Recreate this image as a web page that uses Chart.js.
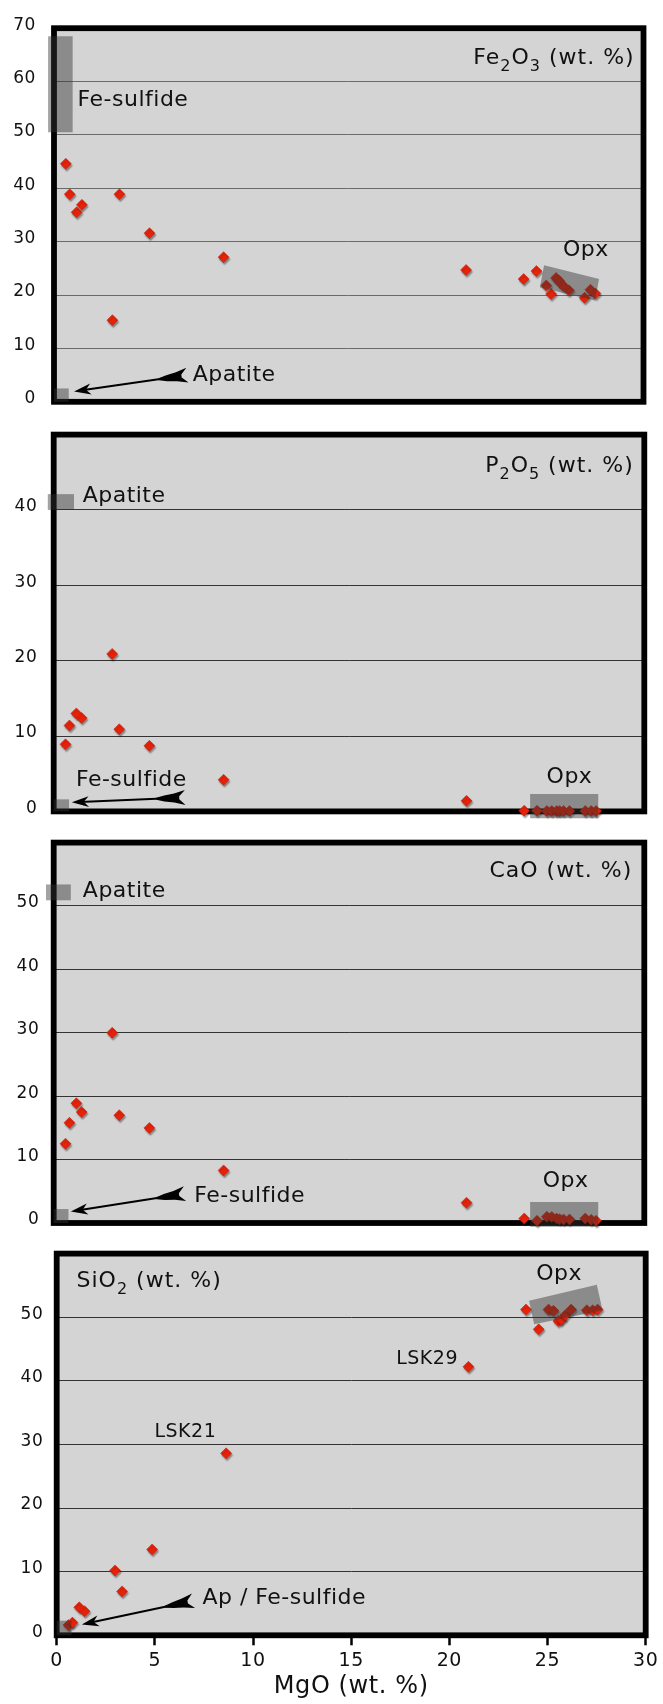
<!DOCTYPE html>
<html>
<head>
<meta charset="utf-8">
<script src="https://cdn.jsdelivr.net/npm/chart.js@4.4.0/dist/chart.umd.min.js"></script>
<style>
  html, body { margin: 0; padding: 0; background: #fff; width: 663px; height: 1704px; overflow: hidden; }
  canvas { position: absolute; left: 0; }
</style>
</head>
<body>
<canvas id="fe2o3Chart" width="663" height="430" style="top:0px"></canvas>
<canvas id="p2o5Chart" width="663" height="430" style="top:408px"></canvas>
<canvas id="caoChart" width="663" height="430" style="top:818px"></canvas>
<canvas id="sio2Chart" width="663" height="474" style="top:1230px"></canvas>
<script>
// ---- Bulk compositions (wt. %) of the analysed samples ----
const mgo   = [0.6, 0.8, 1.15, 1.42, 2.97, 3.33, 4.86, 8.63, 20.97,
               23.9, 24.55, 25.05, 25.3, 25.55, 25.7, 25.9, 26.2, 27.0, 27.3, 27.55];
const fe2o3 = [44.6, 38.9, 35.5, 36.9, 15.3, 38.9, 31.6, 27.1, 24.7,
               23.0, 24.5, 21.8, 20.2, 23.2, 22.7, 21.8, 20.9, 19.5, 21.0, 20.3];
const p2o5  = [8.9, 11.4, 13.0, 12.4, 20.9, 10.9, 8.7, 4.2, 1.4,
               0.1, 0.1, 0.05, 0.05, 0.05, 0.05, 0.05, 0.05, 0.05, 0.05, 0.05];
const cao   = [12.5, 15.8, 18.9, 17.5, 30.0, 17.0, 15.0, 8.3, 3.2,
               0.7, 0.35, 1.0, 0.95, 0.7, 0.6, 0.55, 0.55, 0.7, 0.5, 0.35];
const sio2  = [1.6, 2.0, 4.4, 3.8, 10.2, 6.9, 13.5, 28.6, 42.2,
               51.2, 48.1, 51.2, 51.0, 49.4, 49.6, 50.3, 51.2, 51.1, 51.1, 51.2];

// ---- Axis ticks ----
const mgoTicks   = [0, 5, 10, 15, 20, 25, 30];
const fe2o3Ticks = [0, 10, 20, 30, 40, 50, 60, 70];
const p2o5Ticks  = [0, 10, 20, 30, 40];
const caoTicks   = [0, 10, 20, 30, 40, 50];
const sio2Ticks  = [0, 10, 20, 30, 40, 50];

// ---- Mineral end-member fields (MgO, oxide) ----
const fe2o3Fields = [
  [[-0.3, 50.5], [0.95, 50.5], [0.95, 68.5], [-0.3, 68.5]],      // Fe-sulfide
  [[0, 0], [0.75, 0], [0.75, 2.5], [0, 2.5]],                     // apatite
  [[24.94, 25.6], [27.74, 23.0], [27.53, 19.0], [24.73, 21.4]]    // Opx
];
const p2o5Fields = [
  [[-0.3, 40.0], [1.03, 40.0], [1.03, 42.1], [-0.3, 42.1]],
  [[0, 0], [0.78, 0], [0.78, 1.6], [0, 1.6]],
  [[24.2, -0.9], [27.66, -0.9], [27.66, 2.3], [24.2, 2.3]]
];
const caoFields = [
  [[-0.39, 50.9], [0.87, 50.9], [0.87, 53.4], [-0.39, 53.4]],
  [[0, 0], [0.75, 0], [0.75, 2.2], [0, 2.2]],
  [[24.2, -0.6], [27.66, -0.6], [27.66, 3.3], [24.2, 3.3]]
];
const sio2Fields = [
  [[0, 0], [0.75, 0], [0.75, 2.3], [0, 2.3]],
  [[24.06, 52.6], [27.51, 55.1], [27.8, 51.1], [24.32, 48.9]]
];

// ---- Arrows: [tail, tip] ----
const fe2o3Arrows = [[[6.74, 4.96], [1.02, 1.95]]];
const p2o5Arrows  = [[[6.63, 1.84], [0.92, 1.2]]];
const caoArrows   = [[[6.62, 4.6], [0.87, 1.8]]];
const sio2Arrows  = [[[6.92, 5.4], [1.28, 1.7]]];

// ---- Labels: [text, MgO, oxide (baseline), align, size] ----
const fe2o3Labels = [['Fe-sulfide', 1.2, 55.45, 'left'], ['Apatite', 7.06, 3.95, 'left'], ['Opx', 27.07, 27.3, 'center']];
const p2o5Labels  = [['Apatite', 1.47, 41.1, 'left'], ['Fe-sulfide', 1.13, 3.35, 'left'], ['Opx', 26.2, 3.8, 'center']];
const caoLabels   = [['Apatite', 1.48, 51.35, 'left'], ['Fe-sulfide', 7.14, 3.3, 'left'], ['Opx', 26.0, 5.6, 'center']];
const sio2Labels  = [['Opx', 25.59, 55.9, 'center'], ['LSK29', 20.44, 42.7, 'right', 19],
                     ['LSK21', 4.98, 31.2, 'left', 19], ['Ap / Fe-sulfide', 7.42, 4.96, 'left']];

const FONT = 'DejaVu Sans';
const FIELD_FILL = 'rgba(50,50,50,0.45)';
const POINT_FILL = 'rgb(230,35,10)';

function drawChem(ctx, parts, x, y, align) {
  const mainFont = '22px "' + FONT + '"';
  const subFont = '16px "' + FONT + '"';
  let total = 0;
  parts.forEach(p => { ctx.font = p[1] ? subFont : mainFont; total += ctx.measureText(p[0]).width; });
  let cx = align === 'right' ? x - total : x;
  ctx.textAlign = 'left';
  ctx.textBaseline = 'alphabetic';
  parts.forEach(p => {
    ctx.font = p[1] ? subFont : mainFont;
    ctx.fillText(p[0], cx, p[1] ? y + 7 : y);
    cx += ctx.measureText(p[0]).width;
  });
}

function drawArrow(ctx, x1, y1, x2, y2) {
  const ang = Math.atan2(y2 - y1, x2 - x1);
  const L = Math.hypot(x2 - x1, y2 - y1);
  ctx.save();
  ctx.translate(x1, y1);
  ctx.rotate(ang);
  ctx.fillStyle = '#000';
  ctx.strokeStyle = '#000';
  ctx.lineWidth = 2;
  ctx.beginPath(); ctx.moveTo(16, 0); ctx.lineTo(L - 8, 0); ctx.stroke();
  // head
  ctx.beginPath();
  ctx.moveTo(L, 0); ctx.lineTo(L - 17, -5.5); ctx.lineTo(L - 12, 0); ctx.lineTo(L - 17, 5.5);
  ctx.closePath(); ctx.fill();
  // fletching
  ctx.beginPath();
  ctx.moveTo(-1, -7.5); ctx.lineTo(10, -4.5); ctx.lineTo(20, -3); ctx.lineTo(28, -1);
  ctx.lineTo(28, 1); ctx.lineTo(20, 3); ctx.lineTo(10, 4.5); ctx.lineTo(-1, 7.5);
  ctx.lineTo(5, 1.5); ctx.lineTo(5, -1.5);
  ctx.closePath(); ctx.fill();
  ctx.restore();
}

function makePanel(cfg) {
  const decor = {
    id: 'panelDecor',
    beforeDraw(chart) {
      const { ctx, chartArea: a } = chart;
      ctx.save();
      ctx.fillStyle = '#d4d4d4';
      ctx.fillRect(a.left, a.top, a.right - a.left, a.bottom - a.top);
      ctx.restore();
      ctx.letterSpacing = '0.6px';
    },
    beforeDatasetsDraw(chart) {
      const { ctx, chartArea: a } = chart;
      ctx.letterSpacing = '0px';
      ctx.save();
      ctx.strokeStyle = '#000';
      ctx.lineWidth = 5.8;
      ctx.strokeRect(a.left, a.top, a.right - a.left, a.bottom - a.top);
      ctx.restore();
    },
    beforeDatasetDraw(chart) {
      const ctx = chart.ctx;
      ctx.save();
      ctx.shadowColor = 'rgba(0,0,0,0.38)';
      ctx.shadowOffsetX = 1;
      ctx.shadowOffsetY = 2;
      ctx.shadowBlur = 1.5;
    },
    afterDatasetDraw(chart) { chart.ctx.restore(); },
    afterDatasetsDraw(chart) {
      const { ctx, chartArea: a, scales: { x, y } } = chart;
      ctx.save();
      // mineral fields, translucent over the samples
      ctx.fillStyle = FIELD_FILL;
      cfg.fields.forEach(poly => {
        ctx.beginPath();
        poly.forEach((p, i) => {
          const px = x.getPixelForValue(p[0]), py = y.getPixelForValue(p[1]);
          i ? ctx.lineTo(px, py) : ctx.moveTo(px, py);
        });
        ctx.closePath();
        ctx.fill();
      });
      cfg.arrows.forEach(([t, h]) => drawArrow(ctx,
        x.getPixelForValue(t[0]), y.getPixelForValue(t[1]),
        x.getPixelForValue(h[0]), y.getPixelForValue(h[1])));
      ctx.fillStyle = '#111';
      ctx.textBaseline = 'alphabetic';
      ctx.letterSpacing = '0.5px';
      cfg.labels.forEach(l => {
        ctx.font = (l[4] || 22) + 'px "' + FONT + '"';
        ctx.textAlign = l[3];
        ctx.fillText(l[0], x.getPixelForValue(l[1]), y.getPixelForValue(l[2]));
      });
      ctx.letterSpacing = '1px';
      const t = cfg.title;
      drawChem(ctx, t.parts, t.align === 'right' ? a.right - t.dx : a.left + t.dx, a.top + t.dy, t.align);
      ctx.letterSpacing = '0px';
      ctx.restore();
    }
  };

  const showX = !!cfg.showX;
  return new Chart(document.getElementById(cfg.id), {
    type: 'scatter',
    data: {
      datasets: [{
        data: mgo.map((m, i) => ({ x: m, y: cfg.values[i] })),
        pointStyle: 'rectRot',
        pointRadius: 5.5,
        backgroundColor: POINT_FILL,
        borderColor: 'rgb(200,25,5)',
        borderWidth: 0.5,
        clip: false
      }]
    },
    options: {
      responsive: false,
      animation: false,
      events: [],
      layout: { padding: cfg.padding },
      plugins: { legend: { display: false }, tooltip: { enabled: false } },
      scales: {
        x: {
          type: 'linear', min: 0, max: 30,
          display: showX,
          afterBuildTicks: ax => { ax.ticks = mgoTicks.map(v => ({ value: v })); },
          afterFit: ax => { if (showX) ax.height = cfg.xHeight; },
          grid: { display: true, drawOnChartArea: false, drawTicks: true, tickLength: 10, tickWidth: 2.5, tickColor: '#000' },
          border: { display: false },
          ticks: { font: { family: FONT, size: 19 }, color: '#111', padding: 4, maxRotation: 0 },
          title: { display: true, text: 'MgO (wt. %)', font: { family: FONT, size: 24 }, color: '#111', padding: { top: 0, bottom: 3 } }
        },
        y: {
          type: 'linear', min: 0, max: cfg.yMax,
          afterBuildTicks: ax => { ax.ticks = cfg.ticks.map(v => ({ value: v })); },
          afterFit: ax => { ax.width = cfg.yWidth; },
          grid: { color: cfg.gridColor, lineWidth: 1, drawTicks: false },
          border: { display: false },
          ticks: { font: { family: FONT, size: 17 }, color: '#111', padding: cfg.tickPad, labelOffset: -3 }
        }
      }
    },
    plugins: [decor]
  });
}

makePanel({
  id: 'fe2o3Chart', values: fe2o3, yMax: 70, ticks: fe2o3Ticks,
  padding: { top: 19.7, bottom: 24.5, left: 0, right: 19.5 }, yWidth: 54, tickPad: 18,
  gridColor: '#6a6a6a', fields: fe2o3Fields, arrows: fe2o3Arrows, labels: fe2o3Labels,
  title: { parts: [['Fe', 0], ['2', 1], ['O', 0], ['3', 1], [' (wt. %)', 0]], align: 'right', dx: 8.8, dy: 35.3 }
});
makePanel({
  id: 'p2o5Chart', values: p2o5, yMax: 50, ticks: p2o5Ticks,
  padding: { top: 19.5, bottom: 25.5, left: 0, right: 18.7 }, yWidth: 53.7, tickPad: 16.4,
  gridColor: '#333', fields: p2o5Fields, arrows: p2o5Arrows, labels: p2o5Labels,
  title: { parts: [['P', 0], ['2', 1], ['O', 0], ['5', 1], [' (wt. %)', 0]], align: 'right', dx: 10.5, dy: 37.5 }
});
makePanel({
  id: 'caoChart', values: cao, yMax: 60, ticks: caoTicks,
  padding: { top: 19, bottom: 25, left: 0, right: 18.7 }, yWidth: 53.7, tickPad: 14.4,
  gridColor: '#333', fields: caoFields, arrows: caoArrows, labels: caoLabels,
  title: { parts: [['CaO (wt. %)', 0]], align: 'right', dx: 12, dy: 34.7 }
});
makePanel({
  id: 'sio2Chart', values: sio2, yMax: 60, ticks: sio2Ticks, showX: true, xHeight: 68.7,
  padding: { top: 19.5, bottom: 0, left: 0, right: 17.3 }, yWidth: 56.7, tickPad: 13.4,
  gridColor: '#333', fields: sio2Fields, arrows: sio2Arrows, labels: sio2Labels,
  title: { parts: [['SiO', 0], ['2', 1], [' (wt. %)', 0]], align: 'left', dx: 19.8, dy: 33.8 }
});
</script>
</body>
</html>
